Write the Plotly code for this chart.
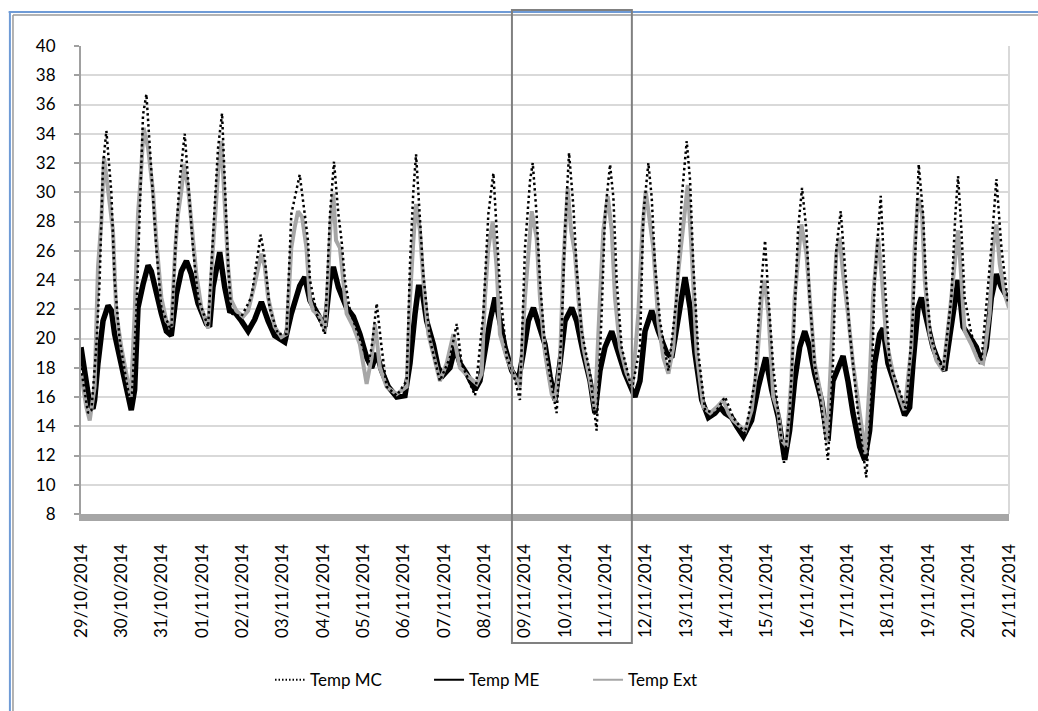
import pandas as pd
import plotly.graph_objects as go

START = pd.Timestamp("2014-10-29 00:00")
END = pd.Timestamp("2014-11-21 00:00")

# (hours since 29/10/2014 00:00, °C)
temp_mc = [
    (0, 18.0), (4.2, 14.9), (6.2, 15.1), (9.1, 19.4), (11.1, 24.0), (13.1, 31.9), (15.1, 34.2), (17.1, 31.7),
    (18.1, 29.9), (20.0, 24.0), (23.0, 19.9), (27.0, 17.1), (29.9, 15.3),
    (32.9, 21.7), (34.9, 28.5), (36.9, 35.3), (38.9, 36.7), (40.9, 33.0), (42.8, 29.6), (44.8, 26.2), (47.8, 22.1), (53.7, 20.5),
    (56.7, 27.4), (58.7, 30.8), (61.7, 34.0), (63.7, 30.8), (66.6, 26.2), (69.6, 22.8), (75.6, 20.8),
    (79.5, 29.0), (81.5, 33.0), (83.9, 35.4), (85.5, 30.8), (87.5, 25.1), (89.4, 21.7), (95.4, 21.5), (101.3, 22.8),
    (106.9, 27.1), (109.3, 25.5), (112.2, 22.1), (117.2, 20.3), (122.2, 20.3),
    (125.1, 28.5), (130.1, 31.2), (133.1, 28.5), (135.0, 26.7), (136.2, 24.0), (140.2, 21.7), (145.1, 20.3),
    (148.1, 28.5), (150.5, 32.1), (153.1, 28.5), (155.0, 26.7), (157.0, 24.0), (160.0, 21.9), (165.9, 19.9), (170.9, 18.3),
    (172.9, 19.4), (175.9, 22.4), (178.8, 19.4), (181.8, 16.7), (187.8, 16.1), (193.7, 17.1),
    (195.7, 25.1), (197.7, 30.1), (199.3, 32.6), (201.6, 28.5), (203.6, 24.4), (207.6, 19.9), (213.5, 17.1),
    (219.5, 18.7), (223.5, 21.0), (226.4, 18.3), (234.4, 16.1),
    (239.3, 21.7), (242.3, 28.5), (245.3, 31.3), (247.2, 27.4), (249.2, 23.5), (253.2, 18.7), (257.2, 17.6), (261.1, 15.8),
    (264.1, 26.2), (267.1, 30.8), (268.7, 32.0), (271.0, 28.5), (273.0, 24.0), (276.0, 19.4), (280.0, 16.7), (282.9, 14.9),
    (285.9, 20.5), (287.9, 27.4), (290.3, 32.7), (292.9, 29.0), (294.8, 24.9), (297.8, 20.5), (302.8, 17.6), (306.7, 13.7),
    (309.7, 21.7), (311.7, 28.5), (314.7, 31.9), (316.7, 29.6), (318.6, 24.0), (321.6, 19.4), (327.6, 16.5),
    (332.5, 19.4), (334.5, 28.5), (337.5, 32.0), (339.5, 29.6), (341.4, 25.1), (344.4, 21.2), (349.4, 17.8),
    (354.3, 22.8), (357.3, 29.6), (360.3, 33.5), (362.3, 30.8), (364.2, 25.1), (367.2, 19.0), (371.2, 15.1),
    (377.0, 14.9), (383.1, 16.0), (388.0, 14.6), (395.0, 13.5),
    (400.9, 17.1), (403.9, 22.8), (406.9, 26.7), (408.9, 22.8), (411.8, 18.0), (414.8, 14.9), (418.2, 11.5),
    (421.5, 14.9), (424.5, 21.7), (426.5, 27.4), (428.9, 30.3), (431.5, 27.4), (433.4, 22.8), (436.4, 18.3), (440.4, 15.3),
    (444.3, 11.7), (447.3, 18.3), (449.3, 26.2), (451.9, 28.7), (454.3, 25.1), (457.2, 20.5), (462.2, 14.9), (467.1, 10.5),
    (470.1, 16.0), (472.1, 24.0), (475.7, 29.75), (478.1, 24.0), (481.0, 18.3), (486.0, 16.7), (490.9, 15.1),
    (494.9, 21.7), (496.9, 28.5), (498.3, 31.9), (500.9, 28.5), (502.8, 23.5), (505.8, 19.9), (512.8, 17.8),
    (517.7, 22.8), (520.1, 28.5), (521.7, 31.1), (523.7, 27.4), (525.6, 22.8), (529.6, 20.3), (535.6, 18.5),
    (541.5, 26.2), (544.5, 30.9), (547.5, 26.2), (551.4, 22.4),
]

temp_me = [
    (0, 19.4), (2.2, 17.8), (5.2, 15.5), (7.1, 15.2), (8.1, 15.8), (10.1, 18.3), (13.1, 21.2), (16.1, 22.25),
    (18.1, 21.9), (20.0, 20.3), (24.0, 18.3), (27.0, 16.7), (29.9, 15.1), (31.9, 16.5), (33.9, 22.1), (36.9, 23.7),
    (39.9, 25.0), (41.8, 24.6), (44.8, 23.0), (47.8, 21.7), (50.8, 20.5), (53.7, 20.2), (56.7, 23.0), (59.7, 24.6),
    (62.7, 25.3), (65.6, 24.4), (69.6, 22.4), (74.6, 21.0), (76.5, 20.8), (78.5, 23.5), (82.5, 25.9), (85.5, 23.5),
    (88.4, 21.9), (91.4, 21.8), (95.4, 21.2), (99.4, 20.5), (103.3, 21.3), (107.3, 22.5), (111.3, 21.2), (115.2, 20.2),
    (121.2, 19.75), (125.1, 21.7), (130.1, 23.6), (133.1, 24.2), (136.2, 22.6), (140.2, 21.7), (145.1, 20.8),
    (148.1, 24.0), (150.1, 24.9), (153.1, 23.5), (158.0, 22.1), (162.0, 21.5), (165.9, 20.3), (169.9, 18.7),
    (172.9, 18.0), (175.9, 19.0), (178.8, 17.8), (182.8, 16.7), (187.8, 16.0), (192.7, 16.1), (195.7, 18.3),
    (198.7, 21.7), (200.7, 23.5), (202.6, 23.5), (205.6, 21.2), (209.6, 19.6), (212.5, 18.0), (215.5, 17.5),
    (219.5, 18.0), (222.5, 19.4), (225.4, 18.3), (229.4, 17.6), (234.4, 16.5), (237.3, 17.1), (240.3, 19.4),
    (243.3, 21.2), (246.3, 22.8), (248.2, 21.7), (252.2, 19.4), (256.2, 17.8), (260.1, 17.1), (263.1, 19.0),
    (266.1, 21.2), (269.1, 22.1), (273.0, 20.8), (276.0, 19.6), (279.0, 17.4), (281.9, 15.8), (284.9, 18.3),
    (287.9, 21.2), (291.9, 22.1), (294.8, 21.2), (298.8, 19.0), (302.8, 17.1), (305.7, 14.9), (308.7, 17.8),
    (311.7, 19.4), (315.7, 20.5), (318.6, 19.4), (323.6, 17.6), (329.5, 16.0), (332.5, 17.1), (335.5, 20.5),
    (339.5, 21.9), (343.4, 20.5), (348.4, 19.0), (351.4, 18.7), (355.3, 21.7), (359.3, 24.2), (362.3, 22.1),
    (365.2, 19.0), (369.2, 15.8), (373.2, 14.6), (377.1, 14.9), (380.1, 15.3), (383.1, 14.9), (387.0, 14.6),
    (390.0, 14.0), (394.0, 13.3), (398.9, 14.4), (402.9, 16.7), (407.3, 18.7), (410.8, 16.5), (414.8, 14.6),
    (417.6, 12.1), (418.6, 11.7), (421.5, 13.7), (424.5, 17.1), (427.5, 19.4), (430.5, 20.5), (433.4, 19.4),
    (436.4, 17.6), (440.4, 15.8), (444.3, 13.0), (447.3, 17.1), (450.3, 18.0), (453.3, 18.8), (456.2, 17.1),
    (459.2, 14.9), (463.2, 12.6), (466.2, 11.7), (469.1, 13.7), (472.1, 18.3), (475.1, 20.3), (477.1, 20.7),
    (480.0, 18.3), (483.0, 17.1), (486.0, 16.2), (489.9, 14.75), (492.9, 15.3), (494.9, 18.3), (497.9, 22.1),
    (499.9, 22.8), (502.8, 21.2), (506.8, 19.4), (509.8, 18.5), (513.8, 17.8), (516.7, 20.1), (519.7, 22.8),
    (521.7, 24.0), (524.7, 20.8), (528.6, 20.1), (532.6, 19.4), (535.6, 18.3), (538.5, 19.4), (541.5, 22.8),
    (544.5, 24.4), (547.5, 23.5), (552.0, 22.6),
]

temp_ext = [
    (0, 17.6), (3.2, 15.3), (5.2, 14.4), (8.1, 16.7), (10.1, 24.9), (12.1, 28.0), (13.7, 32.4), (15.7, 30.8),
    (17.1, 29.2), (19.0, 27.4), (21.0, 21.7), (24.0, 19.4), (27.0, 17.6), (29.6, 16.0),
    (31.9, 21.7), (33.9, 28.5), (35.5, 31.0), (37.3, 34.4), (39.9, 33.0), (42.8, 30.1), (44.8, 26.7), (47.8, 22.8),
    (50.8, 21.2), (53.7, 20.8),
    (56.1, 26.2), (57.7, 28.5), (59.7, 30.1), (61.3, 31.9), (63.7, 30.3), (65.6, 27.8), (68.6, 24.4), (71.6, 22.1), (75.6, 20.7),
    (78.5, 26.2), (81.5, 31.2), (83.5, 33.5), (85.5, 29.6), (87.5, 24.9), (89.4, 22.6), (92.4, 21.9), (96.4, 21.5), (99.4, 21.9),
    (103.3, 23.7), (107.3, 25.8), (109.3, 24.9), (111.3, 22.8), (115.2, 20.8), (119.2, 20.1), (122.2, 20.3),
    (125.1, 26.2), (127.1, 27.6), (129.1, 28.7), (131.5, 28.3), (134.1, 26.2), (136.2, 22.6), (138.2, 21.9),
    (142.1, 21.5), (145.1, 20.5),
    (147.1, 24.4), (148.5, 28.0), (150.1, 29.9), (151.7, 26.7), (154.0, 26.2), (156.0, 24.0), (158.0, 21.7),
    (162.0, 20.8), (165.9, 19.6), (169.9, 16.9),
    (172.9, 18.7), (174.9, 21.0), (177.8, 18.0), (181.8, 16.7), (187.8, 16.2), (193.7, 16.7),
    (195.7, 22.8), (197.7, 26.7), (199.3, 29.2), (201.6, 27.4), (203.6, 24.0), (206.6, 20.3), (210.6, 18.3), (213.5, 17.1),
    (217.5, 18.3), (221.5, 20.3), (225.4, 18.0), (230.4, 17.4), (235.4, 16.9), (238.3, 17.6),
    (240.3, 22.8), (242.3, 26.2), (244.9, 28.0), (247.2, 24.9), (249.2, 20.3), (253.2, 18.7), (257.2, 17.6), (261.1, 16.7),
    (264.1, 22.8), (266.1, 26.2), (268.1, 28.7), (271.0, 26.9), (273.0, 22.8), (276.0, 19.0), (280.0, 16.2), (281.9, 15.8),
    (284.9, 18.3), (286.9, 25.1), (289.5, 30.3), (291.5, 27.4), (293.8, 25.8), (295.8, 22.8), (298.8, 19.4),
    (302.8, 17.1), (305.7, 15.1),
    (308.7, 22.8), (310.7, 27.4), (313.3, 29.75), (315.7, 27.4), (317.6, 22.8), (320.6, 19.4), (324.6, 17.6), (328.0, 16.7),
    (331.5, 21.7), (333.9, 27.4), (335.9, 30.1), (338.5, 27.8), (340.4, 26.2), (343.4, 21.2), (346.4, 18.7), (349.4, 17.6),
    (352.3, 19.4), (355.3, 24.6), (358.3, 28.0), (360.9, 30.5), (363.3, 25.8), (366.2, 19.0), (370.2, 15.3), (374.2, 14.9),
    (378.1, 15.3), (382.1, 15.8), (385.1, 14.9), (388.0, 14.4), (392.0, 14.0), (395.0, 13.7), (398.9, 15.1),
    (401.9, 18.0), (404.9, 22.8), (406.5, 24.0), (408.9, 21.7), (411.8, 16.0), (414.8, 14.9), (416.6, 13.1), (419.6, 12.6),
    (422.5, 17.1), (424.5, 22.8), (426.5, 25.5), (428.5, 27.8), (431.5, 25.8), (433.4, 22.8), (436.4, 18.3),
    (440.4, 16.0), (443.9, 13.0),
    (447.3, 21.7), (449.3, 25.8), (451.3, 26.9), (453.3, 24.4), (456.2, 21.7), (459.2, 18.3), (463.2, 14.9), (466.6, 12.1),
    (469.1, 17.1), (471.1, 22.8), (474.1, 26.9), (476.5, 24.0), (479.0, 19.9), (483.0, 17.6), (487.0, 16.0), (489.9, 15.1),
    (493.9, 19.4), (495.9, 26.2), (497.9, 29.6), (500.3, 28.5), (501.9, 24.0), (504.8, 20.3), (508.8, 18.5), (512.8, 17.8),
    (516.7, 21.7), (519.7, 25.1), (521.7, 27.4), (523.7, 24.0), (525.6, 20.5), (529.6, 19.6), (533.6, 18.5), (536.6, 18.3),
    (540.5, 21.7), (542.5, 26.2), (544.5, 27.8), (546.5, 25.1), (549.5, 23.0), (552.0, 22.1),
]

# Highlighted period (framed rectangle spanning the axis labels)
highlight_start = "2014-11-08 16:20"
highlight_end = "2014-11-11 15:40"

FONT = "Lato, 'Open Sans', sans-serif"
MC_STYLE = dict(color="#000000", width=2.5, dash="2.5px,3px")
ME_STYLE = dict(color="#000000", width=5.5)
EXT_STYLE = dict(color="#a6a6a6", width=4)


def to_xy(points):
    hours, vals = zip(*points)
    return START + pd.to_timedelta(list(hours), unit="h"), list(vals)


fig = go.Figure()

# data series (drawn ME, Ext, then MC on top)
for pts, name, style in [(temp_me, "Temp ME", ME_STYLE), (temp_ext, "Temp Ext", EXT_STYLE),
                         (temp_mc, "Temp MC", MC_STYLE)]:
    x, y = to_xy(pts)
    fig.add_trace(go.Scatter(x=x, y=y, name=name, mode="lines", line=style,
                             showlegend=False, legendgroup=name))

# legend entries with thin sample lines
for name, color, dash in [("Temp MC", "#000000", "1.5px,2px"), ("Temp ME", "#000000", "solid"),
                          ("Temp Ext", "#a6a6a6", "solid")]:
    fig.add_trace(go.Scatter(x=[None], y=[None], name=name, mode="lines", legendgroup=name,
                             line=dict(color=color, width=2, dash=dash)))

# plot-area frame and outer chart border
shapes = [
    dict(type="line", xref="paper", yref="paper", x0=1, x1=1, y0=0, y1=1,
         line=dict(color="#d9d9d9", width=2)),
    dict(type="line", xref="paper", yref="paper", x0=-0.078, x1=1.05, y0=1.0726, y1=1.0726,
         line=dict(color="#6f9bd6", width=2)),
    dict(type="line", xref="paper", yref="paper", x0=-0.0766, x1=-0.0766, y0=1.0726, y1=-0.5,
         line=dict(color="#6f9bd6", width=2)),
    dict(type="line", xref="paper", yref="paper", x0=-0.0733, x1=1.05, y0=1.0662, y1=1.0662,
         line=dict(color="#9a9a9a", width=1.5)),
    dict(type="line", xref="paper", yref="paper", x0=-0.0733, x1=-0.0733, y0=1.0662, y1=-0.5,
         line=dict(color="#9a9a9a", width=1.5)),
    dict(type="rect", xref="x", yref="paper", x0=highlight_start, x1=highlight_end, y0=-0.2756, y1=1.077,
         line=dict(color="#808080", width=2), fillcolor="rgba(0,0,0,0)"),
]

fig.update_layout(
    width=1038, height=711,
    margin=dict(l=81, r=29, t=46, b=197),
    paper_bgcolor="white", plot_bgcolor="white",
    font=dict(family=FONT, size=17, color="#000000"),
    shapes=shapes,
    showlegend=True,
    legend=dict(orientation="h", x=0.2037, y=-0.355, xanchor="left", yanchor="middle",
                font=dict(family=FONT, size=17, color="#000000"),
                entrywidth=114, bgcolor="rgba(0,0,0,0)", traceorder="normal"),
    xaxis=dict(
        type="date", range=[START, END],
        tickmode="linear", tick0=START, dtick=86400000, tickformat="%d/%m/%Y",
        tickangle=-90, ticks="", showgrid=False, zeroline=False,
        showline=True, linecolor="#a6a6a6", linewidth=7,
        tickfont=dict(family=FONT, size=17), ticklabelstandoff=16,
    ),
    yaxis=dict(
        range=[8, 40], tickmode="linear", tick0=8, dtick=2,
        showgrid=True, gridcolor="#d9d9d9", gridwidth=2, zeroline=False,
        showline=True, linecolor="#a0a0a0", linewidth=2,
        ticks="outside", ticklen=5, tickwidth=2, tickcolor="#a0a0a0",
        tickfont=dict(family=FONT, size=17), ticklabelstandoff=15,
    ),
)

fig.write_html("out.html")
